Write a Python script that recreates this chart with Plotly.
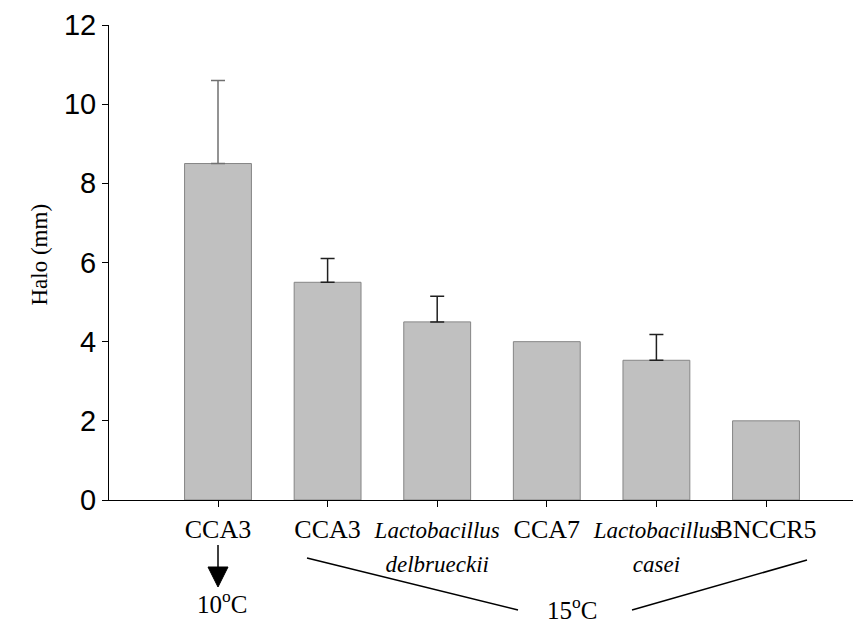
import plotly.graph_objects as go

categories = ["CCA3", "CCA3", "<i>Lactobacillus</i><br><i>delbrueckii</i>", "CCA7",
              "<i>Lactobacillus</i><br><i>casei</i>", "BNCCR5"]
halo_mm = [8.5, 5.5, 4.5, 4.0, 3.53, 2.0]
halo_err = [2.1, 0.6, 0.65, None, 0.65, None]
y_ticks = [0, 2, 4, 6, 8, 10, 12]
y_title = "Halo (mm)"

positions = list(range(1, len(categories) + 1))

SERIF = "Liberation Serif, Times New Roman, serif"
SANS = "Liberation Sans, Arial, sans-serif"

# italic (species) labels are set a touch smaller than the strain codes
tick_text = [f'<span style="font-size:23px">{c}</span>' if "<i>" in c else c for c in categories]

fig = go.Figure()
fig.add_trace(go.Bar(
    x=positions, y=halo_mm, width=0.61,
    marker=dict(color="#c0c0c0", line=dict(color="#858585", width=1)),
    showlegend=False, hoverinfo="x+y",
))

# error bars only where an error exists (first group drawn in grey, rest darker)
err_idx = [i for i, e in enumerate(halo_err) if e is not None]
for group, color in (([i for i in err_idx if i == 0], "#707070"),
                     ([i for i in err_idx if i != 0], "#202020")):
    fig.add_trace(go.Scatter(
        x=[positions[i] for i in group], y=[halo_mm[i] for i in group],
        mode="markers", marker=dict(size=1, opacity=0),
        error_y=dict(type="data", array=[halo_err[i] for i in group],
                     arrayminus=[0] * len(group), symmetric=False,
                     color=color, thickness=1.5, width=7),
        showlegend=False, hoverinfo="skip",
    ))

# page pixel -> paper y (plot area spans page y 25..500) and data x
def py(pix):
    return (500 - pix) / 475.0

def dx(pix):
    return (pix - 108.4) / 109.6

def px_paper(pix):
    return (pix - 109) / 752.0

shapes = [
    dict(type="line", xref="x", yref="paper", x0=dx(307), y0=py(558), x1=dx(518), y1=py(610),
         line=dict(color="black", width=1.5)),
    dict(type="line", xref="x", yref="paper", x0=dx(632), y0=py(610), x1=dx(807), y1=py(560),
         line=dict(color="black", width=1.5)),
    dict(type="line", xref="x", yref="paper", x0=dx(218), y0=py(545), x1=dx(218), y1=py(570),
         line=dict(color="black", width=1.5)),
    dict(type="path", xref="x", yref="paper",
         path=f"M {dx(208)},{py(567)} L {dx(228)},{py(567)} L {dx(218)},{py(587)} Z",
         fillcolor="black", line=dict(color="black", width=1)),
]

annotations = [
    dict(x=dx(222), y=py(620), xref="x", yref="paper", text="10<sup>o</sup>C",
         showarrow=False, font=dict(family=SERIF, size=25, color="black")),
    dict(x=dx(572), y=py(626), xref="x", yref="paper", text="15<sup>o</sup>C",
         showarrow=False, font=dict(family=SERIF, size=25, color="black")),
    dict(x=px_paper(25), y=py(255), xref="paper", yref="paper", text=y_title,
         textangle=-90, showarrow=False,
         font=dict(family=SERIF, size=23, color="black")),
]

# the page body adds an 8 px offset, so the figure is sized 8 px smaller
fig.update_layout(
    width=853, height=615,
    margin=dict(l=101, r=0, t=17, b=123),
    plot_bgcolor="white", paper_bgcolor="white",
    shapes=shapes, annotations=annotations,
    xaxis=dict(
        range=[dx(109), dx(861)], automargin=False, tickangle=0,
        tickmode="array", tickvals=positions, ticktext=tick_text,
        ticks="outside", ticklen=6, tickcolor="black",
        showline=True, linecolor="black", linewidth=1,
        showgrid=False, zeroline=False,
        tickfont=dict(family=SERIF, size=26, color="black"),
    ),
    yaxis=dict(
        range=[0, 12], tickmode="array", tickvals=y_ticks, automargin=False,
        ticks="outside", ticklen=6, tickcolor="black",
        showline=True, linecolor="black", linewidth=1,
        showgrid=False, zeroline=False,
        tickfont=dict(family=SANS, size=29, color="black"),
    ),
)

fig.write_html("out.html")
